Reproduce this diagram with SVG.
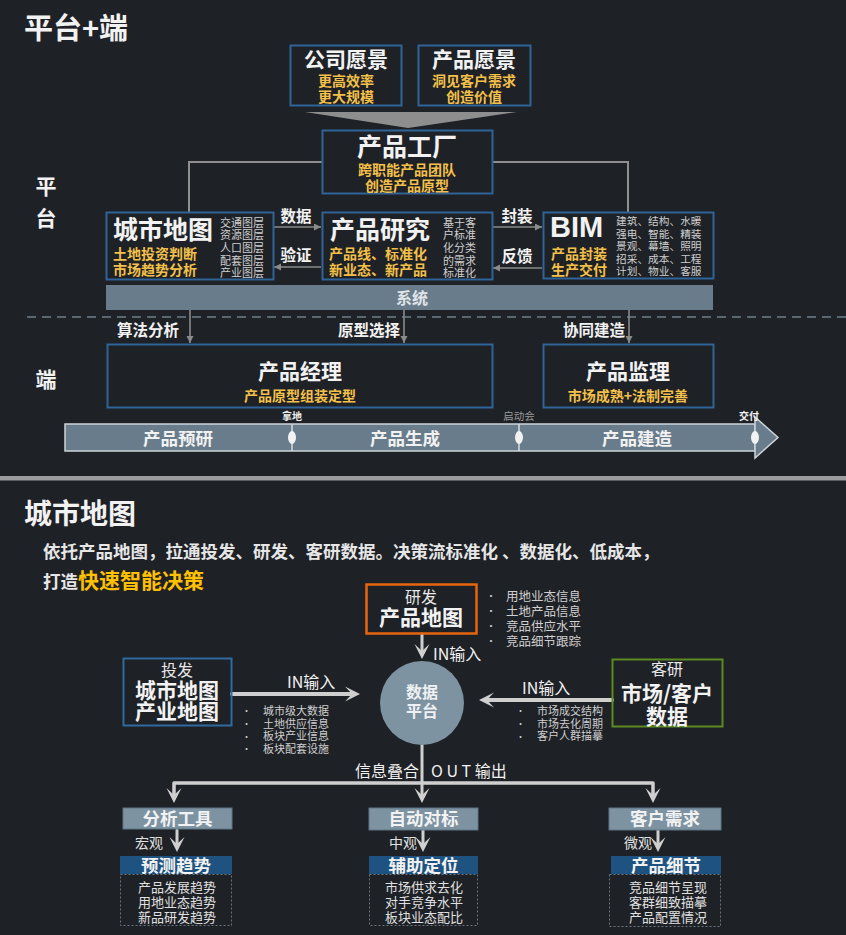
<svg xmlns="http://www.w3.org/2000/svg" xmlns:xlink="http://www.w3.org/1999/xlink" width="846" height="935" viewBox="0 0 846 935">
<style>
text{font-family:"Noto Sans CJK SC","Noto Sans",sans-serif;fill:#f2f2f2}
.b{font-weight:bold}
.m{text-anchor:middle}
.y{fill:#f3c04a;font-weight:bold}
.g{fill:#cfcfcf}
.l{fill:#e0e0e0}
.box{fill:none;stroke:#2e6497;stroke-width:2}
.gl{stroke:#8f8f8f;stroke-width:2;fill:none}
.ga{stroke:#8a8a8a;stroke-width:1.6;fill:none}
.wl{stroke:#cfcfcf;fill:none;stroke-linecap:round}
.slate{fill:#7d93a2}
.navy{fill:#1e5280}
.dash{fill:none;stroke:#6a7680;stroke-width:1;stroke-dasharray:2 2}
</style>
<defs>
<marker id="ah" markerWidth="8" markerHeight="8" refX="7" refY="3.5" orient="auto" markerUnits="userSpaceOnUse">
<path d="M0,0 L7,3.5 L0,7 Z" fill="#8a8a8a"/>
</marker>
<path id="chev" d="M0,0 L-7.5,-15 L0,-8 L7.5,-15 Z" fill="#cfcfcf"/>
</defs>
<rect width="846" height="935" fill="#1e2126"/>

<!-- top section -->
<text x="24" y="39" font-size="29" class="b">平台+端</text>
<text class="b m" font-size="21"><tspan x="46" y="194">平</tspan><tspan x="46" y="226">台</tspan></text>
<text x="46" y="387" font-size="21" class="b m">端</text>

<g id="connectors-top">
<polygon points="305,112 517,112 408,128" fill="#8e8e8e"/>
<polyline class="gl" points="322,162 189,162 189,212"/>
<polyline class="gl" points="492,162 628,162 628,212"/>
<line class="ga" x1="274" y1="227" x2="321" y2="227" marker-end="url(#ah)"/>
<line class="ga" x1="321" y1="267" x2="274" y2="267" marker-end="url(#ah)"/>
<line class="ga" x1="493" y1="227" x2="542" y2="227" marker-end="url(#ah)"/>
<line class="ga" x1="542" y1="268" x2="493" y2="268" marker-end="url(#ah)"/>
<text x="296" y="222" font-size="15.5" class="b m">数据</text>
<text x="296" y="261" font-size="15.5" class="b m">验证</text>
<text x="517" y="222" font-size="15.5" class="b m">封装</text>
<text x="517" y="262" font-size="15.5" class="b m">反馈</text>
<line x1="27" y1="317" x2="846" y2="317" stroke="#5b6872" stroke-width="2" stroke-dasharray="9 6"/>
<line class="ga" x1="190" y1="310" x2="190" y2="343" marker-end="url(#ah)"/>
<line class="ga" x1="404" y1="310" x2="404" y2="343" marker-end="url(#ah)"/>
<line class="ga" x1="629" y1="310" x2="629" y2="343" marker-end="url(#ah)"/>
<text x="148" y="336" font-size="15.5" class="b m">算法分析</text>
<text x="369" y="336" font-size="15.5" class="b m">原型选择</text>
<text x="594" y="336" font-size="15.5" class="b m">协同建造</text>
</g>

<g id="vision-company">
<rect class="box" x="290.5" y="45.5" width="111" height="60"/>
<text class="m"><tspan x="346" y="67" font-size="21" class="b">公司愿景</tspan><tspan x="346" y="86" font-size="14" class="y">更高效率</tspan><tspan x="346" y="102" font-size="14" class="y">更大规模</tspan></text>
</g>
<g id="vision-product">
<rect class="box" x="418.5" y="45.5" width="112" height="60"/>
<text class="m"><tspan x="474" y="67" font-size="21" class="b">产品愿景</tspan><tspan x="474" y="86" font-size="14" class="y">洞见客户需求</tspan><tspan x="474" y="102" font-size="14" class="y">创造价值</tspan></text>
</g>
<g id="factory">
<rect class="box" x="322.5" y="130.5" width="170" height="63"/>
<text class="m"><tspan x="407" y="156" font-size="25" class="b">产品工厂</tspan><tspan x="407" y="175" font-size="14" class="y">跨职能产品团队</tspan><tspan x="407" y="191" font-size="14" class="y">创造产品原型</tspan></text>
</g>
<g id="citymap">
<rect class="box" x="106.5" y="212.5" width="167" height="67"/>
<text><tspan x="113" y="239" font-size="25" class="b">城市地图</tspan><tspan x="113" y="259" font-size="14" class="y">土地投资判断</tspan><tspan x="113" y="275" font-size="14" class="y">市场趋势分析</tspan></text>
<text font-size="11" class="g"><tspan x="220" y="226.5">交通图层</tspan><tspan x="220" y="239.2">资源图层</tspan><tspan x="220" y="251.9">人口图层</tspan><tspan x="220" y="264.6">配套图层</tspan><tspan x="220" y="277.3">产业图层</tspan></text>
</g>
<g id="research">
<rect class="box" x="322.5" y="212.5" width="170" height="67"/>
<text><tspan x="330" y="239" font-size="25" class="b">产品研究</tspan><tspan x="329" y="259" font-size="14" class="y">产品线、标准化</tspan><tspan x="329" y="275" font-size="14" class="y">新业态、新产品</tspan></text>
<text font-size="11" class="g"><tspan x="443" y="226.5">基于客</tspan><tspan x="443" y="239.2">户标准</tspan><tspan x="443" y="251.9">化分类</tspan><tspan x="443" y="264.6">的需求</tspan><tspan x="443" y="277.3">标准化</tspan></text>
</g>
<g id="bim">
<rect class="box" x="543.5" y="212.5" width="170" height="66"/>
<text x="550" y="237" font-size="29" class="b" style="font-family:'Liberation Sans',Arial,sans-serif">BIM</text>
<text font-size="14" class="y"><tspan x="551" y="259">产品封装</tspan><tspan x="551" y="275">生产交付</tspan></text>
<text font-size="10.7" class="g"><tspan x="616" y="225">建筑、结构、水暖</tspan><tspan x="616" y="237.5">强电、智能、精装</tspan><tspan x="616" y="250">景观、幕墙、照明</tspan><tspan x="616" y="262.5">招采、成本、工程</tspan><tspan x="616" y="275">计划、物业、客服</tspan></text>
</g>
<g id="system">
<rect x="106" y="285" width="607" height="25" fill="#687c8b"/>
<text x="412" y="304" font-size="16" class="b m" style="fill:#e0e4e8">系统</text>
</g>
<g id="pm">
<rect class="box" x="107.5" y="344.5" width="385" height="63"/>
<text class="m"><tspan x="300" y="379" font-size="21" class="b">产品经理</tspan><tspan x="300" y="401" font-size="14" class="y">产品原型组装定型</tspan></text>
</g>
<g id="supervisor">
<rect class="box" x="543.5" y="344.5" width="170" height="63"/>
<text class="m"><tspan x="628" y="379" font-size="21" class="b">产品监理</tspan><tspan x="628" y="401" font-size="14" class="y">市场成熟+法制完善</tspan></text>
</g>
<g id="timeline">
<rect x="65" y="424" width="690" height="27" fill="#687c8b" stroke="#cdd4da" stroke-width="1.5"/>
<polygon points="755,417 778,437.5 755,458" fill="#687c8b" stroke="#cdd4da" stroke-width="1.5"/>
<line x1="292" y1="424" x2="292" y2="451" stroke="#d8dde1" stroke-width="1.5"/>
<line x1="519" y1="424" x2="519" y2="451" stroke="#d8dde1" stroke-width="1.5"/>
<ellipse cx="292" cy="437.5" rx="4" ry="6.5" fill="#f2f2f2"/>
<ellipse cx="519" cy="437.5" rx="4" ry="6.5" fill="#f2f2f2"/>
<ellipse cx="755" cy="437.5" rx="4" ry="6.5" fill="#f2f2f2"/>
<text x="178" y="445" font-size="17.5" class="b m">产品预研</text>
<text x="405" y="445" font-size="17.5" class="b m">产品生成</text>
<text x="637" y="445" font-size="17.5" class="b m">产品建造</text>
<text x="292" y="420" font-size="10" class="b m">拿地</text>
<text x="519" y="420" font-size="10.5" class="m" style="fill:#9a9a9a">启动会</text>
<text x="749" y="420" font-size="10" class="b m">交付</text>
</g>

<rect x="0" y="476" width="846" height="4.5" fill="#9b9b9b"/>

<!-- bottom section -->
<text x="24" y="524" font-size="28" class="b">城市地图</text>
<text font-size="17.5" class="b" style="fill:#e6e6e6"><tspan x="43" y="558">依托产品地图，拉通投发、研发、客研数据。决策流标准化 、数据化、低成本，</tspan><tspan x="43" y="588">打造</tspan><tspan font-size="21" style="fill:#ffc000">快速智能决策</tspan></text>

<g id="connectors-bottom">
<line class="wl" x1="422" y1="634" x2="422" y2="652" stroke-width="3"/>
<use xlink:href="#chev" transform="translate(422,659)"/>
<text x="433" y="660" font-size="16">IN输入</text>
<line class="wl" x1="232" y1="694" x2="352" y2="694" stroke-width="4"/>
<use xlink:href="#chev" transform="translate(360,694) rotate(-90)"/>
<text x="287" y="688" font-size="16">IN输入</text>
<line class="wl" x1="612" y1="700" x2="487" y2="700" stroke-width="4"/>
<use xlink:href="#chev" transform="translate(479,700) rotate(90)"/>
<text x="522" y="694" font-size="16">IN输入</text>
<line class="wl" x1="422" y1="745" x2="422" y2="797" stroke-width="3"/>
<polyline class="wl" points="174,797 174,783 653,783 653,797" stroke-width="3.5" stroke-linejoin="round"/>
<use xlink:href="#chev" transform="translate(174,803)"/>
<use xlink:href="#chev" transform="translate(422,803)"/>
<use xlink:href="#chev" transform="translate(653,803)"/>
<text x="419" y="777" font-size="16" style="text-anchor:end">信息叠合</text>
<text x="431" y="777" font-size="16">O U T 输出</text>
<line class="wl" x1="177" y1="830" x2="177" y2="845" stroke-width="3"/>
<use xlink:href="#chev" transform="translate(177,852)"/>
<line class="wl" x1="423" y1="830" x2="423" y2="845" stroke-width="3"/>
<use xlink:href="#chev" transform="translate(423,852)"/>
<line class="wl" x1="658" y1="830" x2="658" y2="845" stroke-width="3"/>
<use xlink:href="#chev" transform="translate(658,852)"/>
<text x="135" y="848" font-size="14" class="l">宏观</text>
<text x="389" y="848" font-size="14" class="l">中观</text>
<text x="624" y="848" font-size="14" class="l">微观</text>
</g>

<g id="rd-map">
<rect x="366.5" y="584.5" width="110" height="49" fill="none" stroke="#e8650f" stroke-width="2.5"/>
<text class="m"><tspan x="421" y="603" font-size="16" style="fill:#e8e8e8">研发</tspan><tspan x="421" y="625" font-size="21" class="b">产品地图</tspan></text>
<text class="g" font-size="12.5"><tspan x="486" y="600" font-size="10">•</tspan><tspan x="506" y="601">用地业态信息</tspan><tspan x="486" y="615" font-size="10">•</tspan><tspan x="506" y="616">土地产品信息</tspan><tspan x="486" y="630" font-size="10">•</tspan><tspan x="506" y="631">竞品供应水平</tspan><tspan x="486" y="645" font-size="10">•</tspan><tspan x="506" y="646">竞品细节跟踪</tspan></text>
</g>
<g id="data-platform">
<circle cx="422" cy="703" r="42" fill="#7d93a2"/>
<text font-size="16" class="b m" style="fill:#eef1f3"><tspan x="422" y="698">数据</tspan><tspan x="422" y="717">平台</tspan></text>
</g>
<g id="invest-map">
<rect x="123.5" y="658.5" width="108" height="67" fill="none" stroke="#2f6aa0" stroke-width="2"/>
<text class="m"><tspan x="177" y="676" font-size="16" style="fill:#e8e8e8">投发</tspan><tspan x="177" y="698" font-size="21" class="b">城市地图</tspan><tspan x="177" y="719" font-size="21" class="b">产业地图</tspan></text>
<text class="g" font-size="11"><tspan x="242" y="714" font-size="9">•</tspan><tspan x="263" y="715">城市级大数据</tspan><tspan x="242" y="727" font-size="9">•</tspan><tspan x="263" y="727.5">土地供应信息</tspan><tspan x="242" y="740" font-size="9">•</tspan><tspan x="263" y="740">板块产业信息</tspan><tspan x="242" y="752" font-size="9">•</tspan><tspan x="263" y="752.5">板块配套设施</tspan></text>
</g>
<g id="customer-data">
<rect x="612.5" y="659.5" width="110" height="67" fill="none" stroke="#5b8c21" stroke-width="2"/>
<text class="m"><tspan x="667" y="675" font-size="16" style="fill:#e8e8e8">客研</tspan><tspan x="667" y="701" font-size="21" class="b">市场/客户</tspan><tspan x="667" y="724" font-size="21" class="b">数据</tspan></text>
<text class="g" font-size="11"><tspan x="516" y="714" font-size="9">•</tspan><tspan x="537" y="715">市场成交结构</tspan><tspan x="516" y="727" font-size="9">•</tspan><tspan x="537" y="727.5">市场去化周期</tspan><tspan x="516" y="740" font-size="9">•</tspan><tspan x="537" y="740">客户人群描摹</tspan></text>
</g>

<g id="analysis">
<rect x="123" y="808" width="109" height="21" class="slate" stroke="#5f7585"/>
<text x="177.5" y="825" font-size="17.5" class="b m">分析工具</text>
<rect x="120" y="856" width="112" height="18" class="navy"/>
<text x="176" y="872" font-size="17.5" class="b m">预测趋势</text>
<rect x="120.5" y="874.5" width="111" height="51" class="dash"/>
<text font-size="13" class="m l"><tspan x="177" y="892">产品发展趋势</tspan><tspan x="177" y="907">用地业态趋势</tspan><tspan x="177" y="922">新品研发趋势</tspan></text>
</g>
<g id="benchmark">
<rect x="369" y="808" width="109" height="22" class="slate" stroke="#5f7585"/>
<text x="423.5" y="825" font-size="17.5" class="b m">自动对标</text>
<rect x="369" y="856" width="109" height="18" class="navy"/>
<text x="423.5" y="872" font-size="17.5" class="b m">辅助定位</text>
<rect x="369.5" y="874.5" width="108" height="51" class="dash"/>
<text font-size="13" class="m l"><tspan x="424" y="892">市场供求去化</tspan><tspan x="424" y="907">对手竞争水平</tspan><tspan x="424" y="922">板块业态配比</tspan></text>
</g>
<g id="customer-needs">
<rect x="609" y="808" width="112" height="22" class="slate" stroke="#5f7585"/>
<text x="665" y="825" font-size="17.5" class="b m">客户需求</text>
<rect x="611" y="856" width="110" height="18" class="navy"/>
<text x="666" y="872" font-size="17.5" class="b m">产品细节</text>
<rect x="609.5" y="874.5" width="111" height="52" class="dash"/>
<text font-size="13" class="m l"><tspan x="668" y="892">竞品细节呈现</tspan><tspan x="668" y="907">客群细致描摹</tspan><tspan x="668" y="922">产品配置情况</tspan></text>
</g>
</svg>
